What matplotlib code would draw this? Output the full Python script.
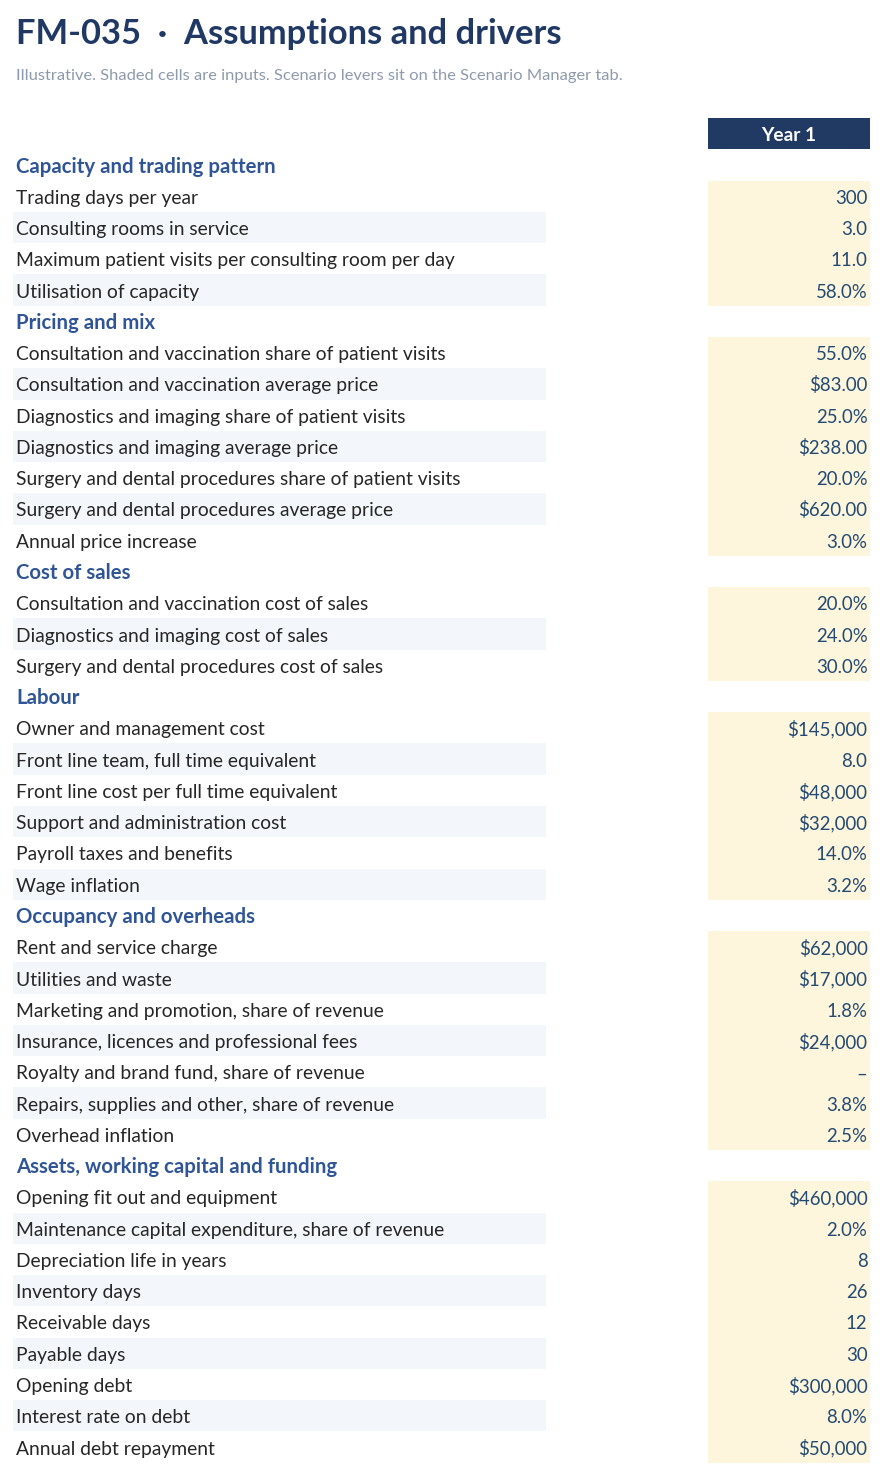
import matplotlib
matplotlib.use("Agg")
import matplotlib.pyplot as plt
from matplotlib.patches import Rectangle

plt.rcParams['font.family'] = ['Lato', 'DejaVu Sans']

title = "FM-035  ·  Assumptions and drivers"
subtitle = "Illustrative. Shaded cells are inputs. Scenario levers sit on the Scenario Manager tab."
column_header = "Year 1"

sections = [
    "Capacity and trading pattern",
    "Pricing and mix",
    "Cost of sales",
    "Labour",
    "Occupancy and overheads",
    "Assets, working capital and funding",
]

capacity_labels = ["Trading days per year", "Consulting rooms in service",
                   "Maximum patient visits per consulting room per day", "Utilisation of capacity"]
capacity_values = [300, 3.0, 11.0, 0.58]
capacity_formats = ["int", "d1", "d1", "pct"]

pricing_labels = ["Consultation and vaccination share of patient visits",
                  "Consultation and vaccination average price",
                  "Diagnostics and imaging share of patient visits",
                  "Diagnostics and imaging average price",
                  "Surgery and dental procedures share of patient visits",
                  "Surgery and dental procedures average price",
                  "Annual price increase"]
pricing_values = [0.55, 83.00, 0.25, 238.00, 0.20, 620.00, 0.03]
pricing_formats = ["pct", "usd2", "pct", "usd2", "pct", "usd2", "pct"]

cos_labels = ["Consultation and vaccination cost of sales",
              "Diagnostics and imaging cost of sales",
              "Surgery and dental procedures cost of sales"]
cos_values = [0.20, 0.24, 0.30]
cos_formats = ["pct", "pct", "pct"]

labour_labels = ["Owner and management cost", "Front line team, full time equivalent",
                 "Front line cost per full time equivalent", "Support and administration cost",
                 "Payroll taxes and benefits", "Wage inflation"]
labour_values = [145000, 8.0, 48000, 32000, 0.14, 0.032]
labour_formats = ["usd0", "d1", "usd0", "usd0", "pct", "pct"]

occupancy_labels = ["Rent and service charge", "Utilities and waste",
                    "Marketing and promotion, share of revenue",
                    "Insurance, licences and professional fees",
                    "Royalty and brand fund, share of revenue",
                    "Repairs, supplies and other, share of revenue", "Overhead inflation"]
occupancy_values = [62000, 17000, 0.018, 24000, 0.0, 0.038, 0.025]
occupancy_formats = ["usd0", "usd0", "pct", "usd0", "pct", "pct", "pct"]

assets_labels = ["Opening fit out and equipment",
                 "Maintenance capital expenditure, share of revenue",
                 "Depreciation life in years", "Inventory days", "Receivable days",
                 "Payable days", "Opening debt", "Interest rate on debt", "Annual debt repayment"]
assets_values = [460000, 0.02, 8, 26, 12, 30, 300000, 0.08, 50000]
assets_formats = ["usd0", "pct", "int", "int", "int", "int", "usd0", "pct", "usd0"]

groups = [
    (capacity_labels, capacity_values, capacity_formats),
    (pricing_labels, pricing_values, pricing_formats),
    (cos_labels, cos_values, cos_formats),
    (labour_labels, labour_values, labour_formats),
    (occupancy_labels, occupancy_values, occupancy_formats),
    (assets_labels, assets_values, assets_formats),
]


def fmt(v, kind):
    if v == 0:
        return "–"
    if kind == "int":
        return f"{v:,.0f}"
    if kind == "d1":
        return f"{v:.1f}"
    if kind == "pct":
        return f"{v*100:.1f}%"
    if kind == "usd2":
        return f"${v:,.2f}"
    if kind == "usd0":
        return f"${v:,.0f}"
    return str(v)


W, H = 886, 1474
fig = plt.figure(figsize=(W / 100, H / 100), dpi=100)
ax = fig.add_axes([0, 0, 1, 1])
ax.set_xlim(0, W)
ax.set_ylim(H, 0)
ax.axis("off")

NAVY = "#1F3864"
SEC = "#2F5597"
LABEL = "#262626"
VAL = "#234A74"
SUB = "#8E9AAC"
YELLOW = "#FEF6DC"
STRIPE = "#F3F7FC"
HEAD = "#213A63"

ax.text(16, 44, title, fontsize=24.8, fontweight="bold", color=NAVY, va="baseline", ha="left")
ax.text(16, 80, subtitle, fontsize=11.85, color=SUB, va="baseline", ha="left")

pitch = 31.27
y0 = 165.0
xl0, xl1 = 13, 546
xv0, xv1 = 708, 870
BL = 7.5

# header box
yh = y0 - pitch
ax.add_patch(Rectangle((xv0, yh - 15.3), xv1 - xv0, 30.6, facecolor=HEAD, edgecolor="none"))
ax.text((xv0 + xv1) / 2, yh + BL, column_header, fontsize=13.8, fontweight="bold", color="white",
        ha="center", va="baseline")

row = 0
for sec, (labels, values, formats) in zip(sections, groups):
    y = y0 + row * pitch
    ax.text(16, y + BL, sec, fontsize=14.7, fontweight="bold", color=SEC, ha="left", va="baseline")
    row += 1
    for k, (lab, v, f) in enumerate(zip(labels, values, formats)):
        y = y0 + row * pitch
        if k % 2 == 1:
            ax.add_patch(Rectangle((xl0, y - pitch / 2), xl1 - xl0, pitch,
                                   facecolor=STRIPE, edgecolor="none"))
        ax.add_patch(Rectangle((xv0, y - pitch / 2), xv1 - xv0, pitch + 0.3,
                               facecolor=YELLOW, edgecolor="none"))
        ax.text(16, y + BL, lab, fontsize=13.9, color=LABEL, ha="left", va="baseline")
        ax.text(867.5, y + BL, fmt(v, f), fontsize=13.4, color=VAL, ha="right", va="baseline")
        row += 1

fig.savefig("out.png", dpi=100, facecolor="white")
